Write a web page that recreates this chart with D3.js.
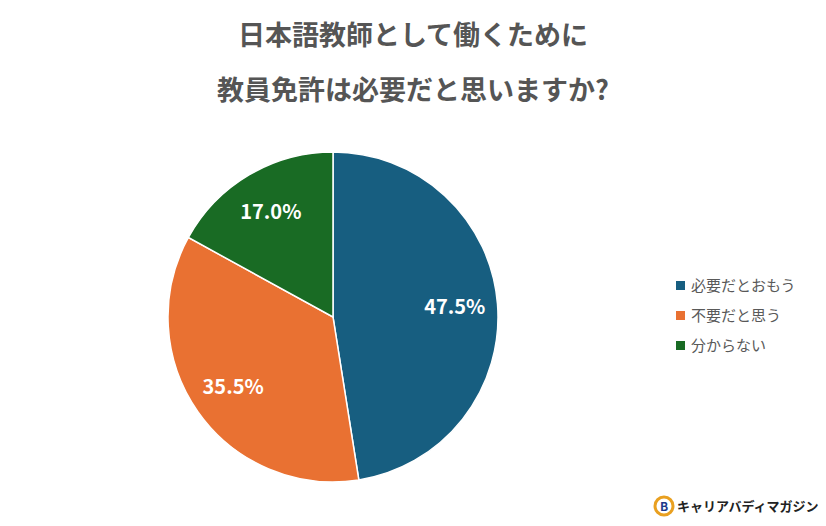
<!DOCTYPE html>
<html><head><meta charset="utf-8">
<script src="https://cdn.jsdelivr.net/npm/d3@7"></script>
<style>body{margin:0;background:#fff}text{font-family:"Noto Sans CJK JP","Noto Sans",sans-serif}</style>
</head><body>
<svg width="826" height="526"></svg>
<script>
const labels = ['必要だとおもう', '不要だと思う', '分からない']
const values = [47.5, 35.5, 17.0]
const colors = ['#175e80', '#e97132', '#196b24']

const svg = d3.select('svg')
const cx = 333, cy = 317, r = 165

svg.append('text').attr('x', 413).attr('y', 45).attr('text-anchor', 'middle')
  .attr('font-size', 27).attr('font-weight', 700).attr('fill', '#555')
  .text('日本語教師として働くために')
svg.append('text').attr('x', 413).attr('y', 100).attr('text-anchor', 'middle')
  .attr('font-size', 27).attr('font-weight', 700).attr('fill', '#555')
  .text('教員免許は必要だと思いますか?')

const pie = d3.pie().sort(null)(values)
const arc = d3.arc().innerRadius(0).outerRadius(r)
const g = svg.append('g').attr('transform', `translate(${cx},${cy})`)
g.selectAll('path').data(pie).join('path')
  .attr('d', arc).attr('fill', (d, i) => colors[i])
  .attr('stroke', '#fff').attr('stroke-width', 1.5)
const lab = d3.arc().innerRadius(r * 0.74).outerRadius(r * 0.74)
g.selectAll('text').data(pie).join('text')
  .attr('transform', d => `translate(${lab.centroid(d)})`)
  .attr('text-anchor', 'middle').attr('dy', '0.35em')
  .attr('font-size', 20).attr('font-weight', 700).attr('fill', '#fff')
  .text(d => d.data.toFixed(1) + '%')

const lg = svg.append('g').attr('transform', 'translate(676,286)')
labels.forEach((t, i) => {
  const row = lg.append('g').attr('transform', `translate(0,${i * 30})`)
  row.append('rect').attr('x', 0).attr('y', -5).attr('width', 9).attr('height', 9).attr('fill', colors[i])
  row.append('text').attr('x', 15).attr('dy', '0.35em').attr('font-size', 15).attr('fill', '#595959').text(t)
})

// logo
svg.append('circle').attr('cx', 664).attr('cy', 506).attr('r', 9)
  .attr('fill', 'none').attr('stroke', '#e9a020').attr('stroke-width', 3)
svg.append('text').attr('x', 660).attr('y', 511).attr('font-size', 12).attr('font-weight', 700).attr('fill', '#1d3a8a').text('B')
svg.append('text').attr('x', 677).attr('y', 511).attr('font-size', 13).attr('font-weight', 700).attr('fill', '#222')
  .text('キャリアバディマガジン')
</script>
</body></html>
